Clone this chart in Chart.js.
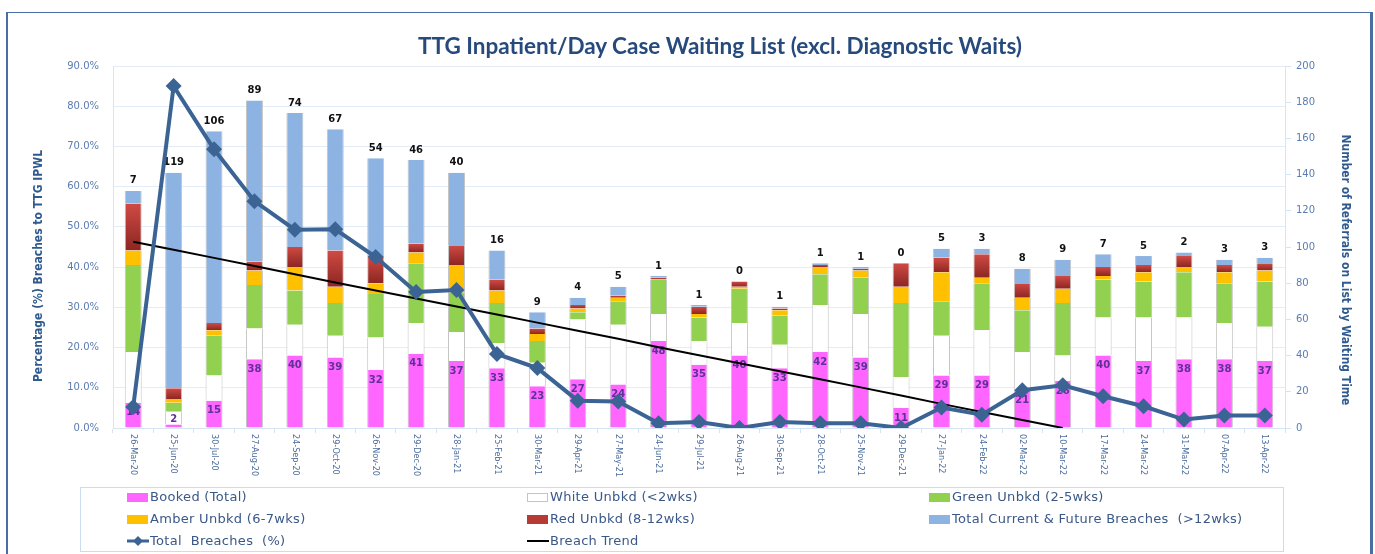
<!DOCTYPE html>
<html>
<head>
<meta charset="utf-8">
<script src="https://cdn.jsdelivr.net/npm/chart.js@4/dist/chart.umd.min.js"></script>
<style>
  body { margin: 0; background: #fff; }
  #wrap { position: relative; width: 1375px; height: 554px; overflow: hidden; }
  #c { position: absolute; left: 0; top: 0; }
  #frame { position: absolute; left: 6px; top: 12px; width: 1362px; height: 560px;
           border-left: 2px solid #4a6ea3; border-top: 1px solid #4a6ea3; border-right: 3px solid #4a6ea3; }
  #title { position: absolute; left: 320px; width: 800px; top: 31px; text-align: center;
           font: bold 22.5px Lato, sans-serif; color: #264a7c; line-height: 30px; }
  #legend { position: absolute; left: 80px; top: 487px; width: 1202px; height: 63px; border: 1px solid #c9dcf2; }
  .item { position: absolute; font: 13px "DejaVu Sans", sans-serif; letter-spacing: 0.3px; color: #3a5888; white-space: pre; line-height: 15px; }
  .sw { position: absolute; width: 21px; height: 9px; }
</style>
</head>
<body>
<div id="wrap">
  <canvas id="c" width="1375" height="554"></canvas>
  <div id="frame"></div>
  <div id="title">TTG Inpatient/Day Case Waiting List (excl. Diagnostic Waits)</div>
  <div id="legend"></div>
</div>
<script>
// categories
const dates = ['26-Mar-20','25-Jun-20','30-Jul-20','27-Aug-20','24-Sep-20','29-Oct-20','26-Nov-20','29-Dec-20','28-Jan-21','25-Feb-21','30-Mar-21','29-Apr-21','27-May-21','24-Jun-21','29-Jul-21','26-Aug-21','30-Sep-21','28-Oct-21','25-Nov-21','29-Dec-21','27-Jan-22','24-Feb-22','02-Mar-22','10-Mar-22','17-Mar-22','24-Mar-22','31-Mar-22','07-Apr-22','13-Apr-22'];

// referrals on list (right axis)
const booked   = [14,2,15,38,40,39,32,41,37,33,23,27,24,48,35,40,33,42,39,11,29,29,21,26,40,37,38,38,37];
const white    = [28,7,14,17,17,12,18,17,16,14,13,33,33,15,13,18,13,26,24,17,22,25,21,14,21,24,23,20,19];
const green    = [48,5,22,24,19,18,24,33,22,22,12,4,13,19,13,19,16,17,20,41,19,26,23,29,21,20,25,22,25];
const amber    = [8,2,3,8,13,9,6,6,15,7,4,2,2,0,2,1,3,4,4,9,16,3,7,8,2,5,3,6,6];
const red      = [26,6,4,5,11,20,15,5,11,6,3,2,1,1,4,3,1,1,1,13,8,13,8,7,5,4,6,4,4];
const breaches = [7,119,106,89,74,67,54,46,40,16,9,4,5,1,1,0,1,1,1,0,5,3,8,9,7,5,2,3,3];

// percentages (left axis)
const breachPct = [5.2,85.0,69.3,56.4,49.3,49.4,42.5,33.8,34.3,18.4,14.9,6.8,6.6,1.2,1.5,0,1.5,1.2,1.2,0,5.1,3.3,9.4,10.6,7.9,5.4,2.1,3.1,3.1];
const trend = [46.3,44.3,42.3,40.3,38.2,36.2,34.2,32.2,30.2,28.2,26.2,24.2,22.2,20.1,18.1,16.1,14.1,12.1,10.1,8.1,6.0,4.0,2.0,0.0,null,null,null,null,null];

const leftTicks = [0,10,20,30,40,50,60,70,80,90];
const leftTitle = 'Percentage (%) Breaches to TTG IPWL';
const rightTitle = 'Number of Referrals on List by Waiting Time';

const edge = { left: 1, right: 1, top: 0, bottom: 0 };
function barSet(label, data, color) {
  return { type: 'bar', label, data, backgroundColor: color, borderColor: '#c4c4c4', borderWidth: edge,
           yAxisID: 'y1', order: 1, barPercentage: 0.42, categoryPercentage: 1 };
}

const redFill = (c) => {
  const sc = c.chart.scales.y1;
  if (!sc || c.type !== 'data') return '#b83a35';
  const i = c.dataIndex;
  const b = booked[i] + white[i] + green[i] + amber[i];
  const y0 = sc.getPixelForValue(b), y1 = sc.getPixelForValue(b + red[i]);
  if (!isFinite(y0) || !isFinite(y1) || y0 === y1) return '#b83a35';
  const g = c.chart.ctx.createLinearGradient(0, y0, 0, y1);
  g.addColorStop(0, '#8c2622');
  g.addColorStop(1, '#d04a44');
  return g;
};

const labelPlugin = {
  id: 'labels',
  afterDatasetDraw(chart, args) {
    if (args.index !== 0) return;
    const ctx = chart.ctx;
    const pink = chart.getDatasetMeta(0).data;
    const blue = chart.getDatasetMeta(5).data;
    ctx.save();
    ctx.textAlign = 'center';
    ctx.textBaseline = 'middle';
    ctx.font = 'bold 10px "DejaVu Sans"';
    pink.forEach((el, i) => {
      ctx.fillStyle = '#5f3197';
      const y = Math.min(el.y + 10, el.base - 8);
      ctx.fillText(String(booked[i]), el.x, y);
    });
    blue.forEach((el, i) => {
      ctx.fillStyle = '#111';
      ctx.fillText(String(breaches[i]), el.x, el.y - 10);
    });
    ctx.restore();
  },
  afterDraw(chart) {
    const ctx = chart.ctx;
    const xs = chart.scales.x;
    const area = chart.chartArea;
    ctx.save();
    ctx.font = '9px "DejaVu Sans Condensed", sans-serif';
    ctx.fillStyle = '#4c6c9c';
    ctx.textAlign = 'left';
    ctx.textBaseline = 'middle';
    dates.forEach((d, i) => {
      ctx.save();
      ctx.translate(xs.getPixelForValue(i), area.bottom + 6);
      ctx.rotate(Math.PI / 2);
      ctx.fillText(d, 0, 0);
      ctx.restore();
    });
    // axis titles
    ctx.font = 'bold 12px "DejaVu Sans Condensed", sans-serif';
    ctx.fillStyle = '#2f5a8f';
    ctx.textAlign = 'center';
    ctx.save();
    ctx.translate(39, 266);
    ctx.rotate(-Math.PI / 2);
    ctx.fillText(leftTitle, 0, 0);
    ctx.restore();
    ctx.save();
    ctx.translate(1345, 270);
    ctx.rotate(Math.PI / 2);
    ctx.fillText(rightTitle, 0, 0);
    ctx.restore();
    ctx.restore();
  }
};

new Chart(document.getElementById('c'), {
  type: 'bar',
  data: {
    labels: dates,
    datasets: [
      barSet('Booked (Total)', booked, '#ff66ff'),
      barSet('White Unbkd (<2wks)', white, '#ffffff'),
      barSet('Green Unbkd (2-5wks)', green, '#92d050'),
      barSet('Amber Unbkd (6-7wks)', amber, '#ffc000'),
      barSet('Red Unbkd (8-12wks)', red, redFill),
      barSet('Total Current & Future Breaches  (>12wks)', breaches, '#8db3e2'),
      { type: 'line', label: 'Total  Breaches  (%)', data: breachPct, yAxisID: 'y', order: 0,
        borderColor: '#3b6494', backgroundColor: '#3b6494', borderWidth: 4, tension: 0,
        pointStyle: 'rectRot', pointRadius: 8, pointBorderWidth: 0 },
      { type: 'line', label: 'Breach Trend', data: trend, yAxisID: 'y', order: 0,
        borderColor: '#000', borderWidth: 2, pointRadius: 0, spanGaps: false }
    ]
  },
  options: {
    responsive: false,
    devicePixelRatio: 1,
    animation: false,
    layout: { padding: { left: 20, right: 10, top: 66, bottom: 66 } },
    plugins: {
      legend: { display: false },
      tooltip: { enabled: false },
      title: { display: false }
    },
    scales: {
      x: {
        stacked: true,
        ticks: { display: false },
        grid: { drawOnChartArea: false, offset: true, tickLength: 5, color: '#d6e5f5' },
        border: { color: '#d6e5f5' },
        afterFit(s) { s.height = 60; }
      },
      y: {
        position: 'left',
        min: 0, max: 90,
        afterBuildTicks(s) { s.ticks = leftTicks.map(v => ({ value: v })); },
        ticks: { callback: v => v.toFixed(1) + '%', color: '#5b7cb0', padding: 14,
                 font: { family: 'DejaVu Sans', size: 10 } },
        grid: { color: '#e2edf9', drawTicks: false },
        border: { color: '#d6e5f5' },
        afterFit(s) { s.width = 93; }
      },
      y1: {
        position: 'right',
        stacked: true,
        min: 0, max: 200,
        ticks: { stepSize: 20, color: '#5b7cb0', padding: 5, font: { family: 'DejaVu Sans', size: 10 } },
        grid: { drawOnChartArea: false, tickLength: 6, color: '#d6e5f5' },
        border: { color: '#d6e5f5' },
        afterFit(s) { s.width = 80; }
      }
    }
  },
  plugins: [labelPlugin]
});

// legend (HTML text)
const legendItems = [
  ['Booked (Total)', 'box', '#ff66ff'],
  ['White Unbkd (<2wks)', 'box', '#ffffff'],
  ['Green Unbkd (2-5wks)', 'box', '#92d050'],
  ['Amber Unbkd (6-7wks)', 'box', '#ffc000'],
  ['Red Unbkd (8-12wks)', 'box', '#b83a35'],
  ['Total Current & Future Breaches  (>12wks)', 'box', '#8db3e2'],
  ['Total  Breaches  (%)', 'diamond', '#3b6494'],
  ['Breach Trend', 'line', '#000']
];
const colX = [127, 527, 929];
const rowY = [497, 519, 541];
const wrap = document.getElementById('wrap');
legendItems.forEach((it, k) => {
  const cx = colX[k % 3], cy = rowY[Math.floor(k / 3)];
  let mk;
  if (it[1] === 'box') {
    mk = document.createElement('div');
    mk.className = 'sw';
    mk.style.left = cx + 'px';
    mk.style.top = (cy - 4) + 'px';
    mk.style.background = it[2];
    mk.style.border = it[2] === '#ffffff' ? '1px solid #c4c4c4' : 'none';
    if (it[2] === '#ffffff') { mk.style.width = '19px'; mk.style.height = '7px'; }
  } else {
    mk = document.createElementNS('http://www.w3.org/2000/svg', 'svg');
    mk.setAttribute('width', '22'); mk.setAttribute('height', '10');
    mk.style.position = 'absolute';
    mk.style.left = cx + 'px'; mk.style.top = (cy - 5) + 'px';
    const w = it[1] === 'diamond' ? 3 : 2;
    let s = '<line x1="0" y1="5" x2="22" y2="5" stroke="' + it[2] + '" stroke-width="' + w + '"/>';
    if (it[1] === 'diamond') s += '<polygon points="11,0 16,5 11,10 6,5" fill="' + it[2] + '"/>';
    mk.innerHTML = s;
  }
  wrap.appendChild(mk);
  const t = document.createElement('div');
  t.className = 'item';
  t.textContent = it[0];
  t.style.left = (cx + 23) + 'px';
  t.style.top = (cy - 8) + 'px';
  wrap.appendChild(t);
});
</script>
</body>
</html>
